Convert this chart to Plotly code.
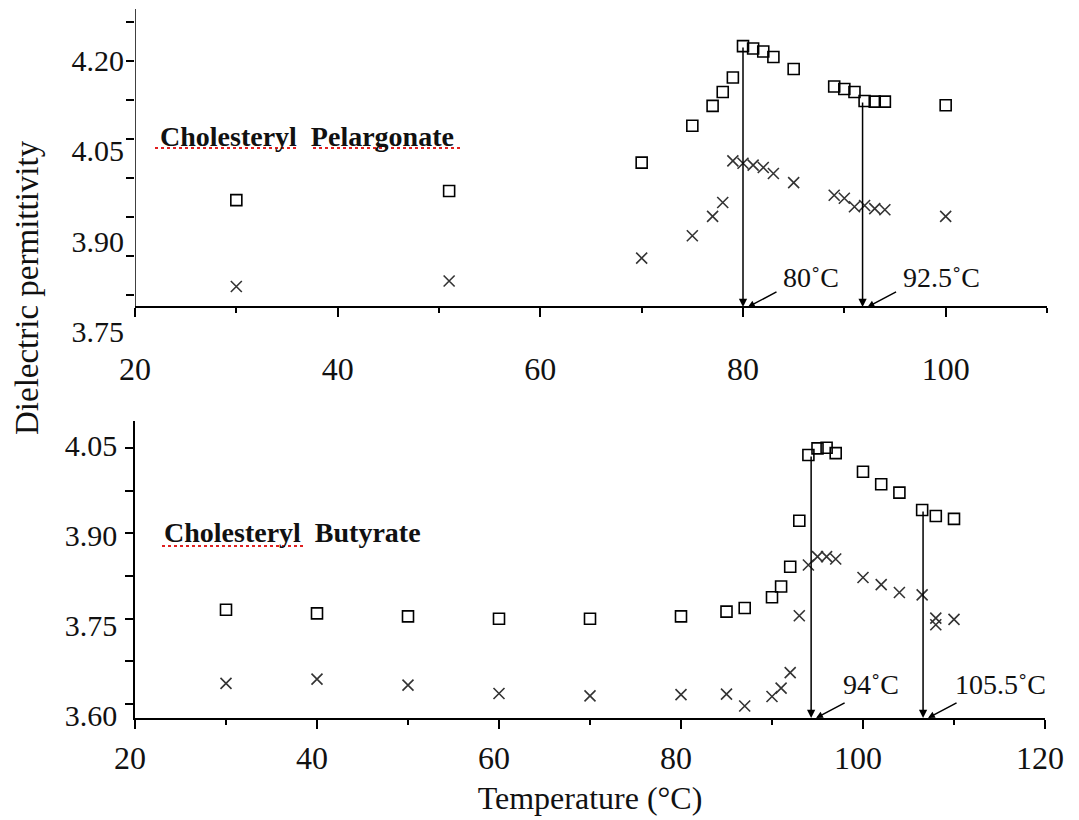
import plotly.graph_objects as go

W, H = 1079, 820
FONT = "Liberation Serif"

# ---------------- Data ----------------
# Cholesteryl Pelargonate (top panel)
top_temp = [30, 51, 70, 75, 77, 78, 79, 80, 81, 82, 83, 85, 89, 90, 91, 92, 93, 94, 100]
top_square = [3.973, 3.988, 4.035, 4.096, 4.129, 4.152, 4.176, 4.228, 4.224, 4.219, 4.210,
              4.190, 4.161, 4.157, 4.152, 4.137, 4.136, 4.136, 4.130]
top_cross = [3.830, 3.839, 3.877, 3.914, 3.946, 3.969, 4.038, 4.034, 4.031, 4.027, 4.017,
             4.002, 3.981, 3.976, 3.962, 3.964, 3.959, 3.957, 3.946]
top_trans_x = [80, 91.8]
top_trans_top = [4.228, 4.137]
top_trans_labels = ["80˚C", "92.5˚C"]

# Cholesteryl Butyrate (bottom panel)
bot_sq_temp = [30, 40, 50, 60, 70, 80, 85, 87, 90, 91, 92, 93, 94, 95, 96, 97, 100, 102, 104,
               106.5, 108, 110]
bot_square = [3.776, 3.770, 3.765, 3.761, 3.761, 3.765, 3.773, 3.779, 3.797, 3.815, 3.848,
              3.925, 4.035, 4.046, 4.047, 4.038, 4.007, 3.986, 3.972, 3.943, 3.933, 3.928]
bot_cr_temp = [30, 40, 50, 60, 70, 80, 85, 87, 90, 91, 92, 93, 94, 95, 96, 97, 100, 102, 104,
               106.5, 108, 108, 110]
bot_cross = [3.653, 3.660, 3.650, 3.636, 3.632, 3.634, 3.635, 3.615, 3.631, 3.645, 3.671,
             3.766, 3.851, 3.865, 3.865, 3.861, 3.830, 3.818, 3.805, 3.801, 3.762, 3.751, 3.760]
bot_trans_x = [94.3, 106.6]
bot_trans_top = [4.035, 3.943]
bot_trans_labels = ["94˚C", "105.5˚C"]

top_xticks = [20, 40, 60, 80, 100]
bot_xticks = [20, 40, 60, 80, 100, 120]
top_yticks = [4.20, 4.05, 3.90, 3.75]
bot_yticks = [4.05, 3.90, 3.75, 3.60]
top_ytext = ["4.20", "4.05", "3.90", "3.75"]
bot_ytext = ["4.05", "3.90", "3.75", "3.60"]

# ---------------- Helpers ----------------
def px(xp):
    return xp / W

def py(yp):
    return 1 - yp / H

TOP_X_RANGE = [20, 110]
TOP_Y_RANGE = [3.7331, 4.2894]
TOP_AXIS_Y = 3.796
BOT_X_RANGE = [20, 120]
BOT_Y_RANGE = [3.595, 4.0918]

top_minor_y = [3.8159 + i * 0.06464 for i in range(8)]
bot_minor_y = [3.6184 + i * 0.0714 for i in range(7)]

sq_marker = dict(symbol="square-open", size=11, color="black", line=dict(width=1.6, color="black"))
cr_marker = dict(symbol="x-thin-open", size=11, color="#333", line=dict(width=1.6, color="#333"))

fig = go.Figure()
fig.add_trace(go.Scatter(x=top_temp, y=top_square, mode="markers", marker=sq_marker,
                         xaxis="x", yaxis="y", showlegend=False))
fig.add_trace(go.Scatter(x=top_temp, y=top_cross, mode="markers", marker=cr_marker,
                         xaxis="x", yaxis="y", showlegend=False))
fig.add_trace(go.Scatter(x=bot_sq_temp, y=bot_square, mode="markers", marker=sq_marker,
                         xaxis="x2", yaxis="y2", showlegend=False))
fig.add_trace(go.Scatter(x=bot_cr_temp, y=bot_cross, mode="markers", marker=cr_marker,
                         xaxis="x2", yaxis="y2", showlegend=False))

tickfont_x = dict(family=FONT, size=32, color="#111")
tickfont_y = dict(family=FONT, size=30, color="#111")

common_x = dict(showline=True, linecolor="black", linewidth=1.5, showgrid=False, zeroline=False,
                ticks="outside", ticklen=9, tickwidth=1.5, tickcolor="black", automargin=False,
                tickfont=tickfont_x, tickmode="array",
                minor=dict(dtick=10, tick0=20, ticks="outside", ticklen=5, tickwidth=1.5,
                           tickcolor="black", showgrid=False))

fig.update_layout(
    width=W, height=H,
    margin=dict(l=0, r=0, t=0, b=0),
    paper_bgcolor="white", plot_bgcolor="white",
    xaxis=dict(common_x, domain=[px(135), px(1047)], range=TOP_X_RANGE,
               anchor="free", position=py(307),
               tickvals=top_xticks, ticktext=[str(v) for v in top_xticks],
               ticklabelstandoff=25),
    yaxis=dict(domain=[py(345), py(9)], range=TOP_Y_RANGE, anchor="x",
               showline=False, showgrid=False, zeroline=False, automargin=False,
               tickmode="array", tickvals=top_yticks, ticktext=top_ytext, ticks="",
               tickfont=tickfont_y, ticklabelshift=-3, ticklabelstandoff=10,
               minor=dict(tickmode="array", tickvals=top_minor_y, ticks="outside",
                          ticklen=8, tickwidth=1.5, tickcolor="black", showgrid=False)),
    xaxis2=dict(common_x, domain=[px(135), px(1045)], range=BOT_X_RANGE, anchor="y2",
                tickvals=bot_xticks, ticktext=[str(v) for v in bot_xticks],
                ticklabelstandoff=2, ticklabelshift=-5,
                title=dict(text="Temperature (°C)", font=dict(family=FONT, size=32, color="#111"),
                           standoff=11)),
    yaxis2=dict(domain=[py(718), py(421)], range=BOT_Y_RANGE, anchor="x2",
                showline=True, linecolor="black", linewidth=1.5, automargin=False,
                showgrid=False, zeroline=False,
                tickmode="array", tickvals=bot_yticks, ticktext=bot_ytext, ticks="",
                tickfont=tickfont_y, ticklabelstandoff=10,
                minor=dict(tickmode="array", tickvals=bot_minor_y, ticks="outside",
                           ticklen=8, tickwidth=1.5, tickcolor="black", showgrid=False)),
)

shapes = []
# top y-axis line (stops at the x-axis crossing)
shapes.append(dict(type="line", xref="x", yref="y", x0=TOP_X_RANGE[0], x1=TOP_X_RANGE[0],
                   y0=TOP_AXIS_Y, y1=TOP_Y_RANGE[1], line=dict(color="black", width=1.5)))
# red spell-check squiggles under the panel titles
for (x0, x1, yy) in [(155, 298, 148), (313, 463, 148), (162, 305, 546)]:
    shapes.append(dict(type="line", xref="paper", yref="paper", x0=px(x0), x1=px(x1),
                       y0=py(yy), y1=py(yy), line=dict(color="#e02020", width=2, dash="dot")))
fig.update_layout(shapes=shapes)

ann = []
lab_font = dict(family=FONT, size=28, color="#111")
title_font = dict(family=FONT, size=28, color="#111")

# panel titles
ann.append(dict(x=22.27, y=4.0775, xref="x", yref="y", text="<b>Cholesteryl\u00a0 Pelargonate</b>",
                showarrow=False, xanchor="left", yanchor="middle", font=title_font))
ann.append(dict(x=22.97, y=3.9045, xref="x2", yref="y2", text="<b>Cholesteryl\u00a0 Butyrate</b>",
                showarrow=False, xanchor="left", yanchor="middle", font=title_font))

# shared y-axis title
ann.append(dict(x=px(27), y=py(288), xref="paper", yref="paper", text="Dielectric permittivity",
                textangle=-90, showarrow=False, xanchor="center", yanchor="middle",
                font=dict(family=FONT, size=33, color="#111")))

def add_transitions(xs, tops, labels, xr, yr, base, text_dx, text_dy):
    for xv, tv, lab in zip(xs, tops, labels):
        ann.append(dict(x=xv, y=base, xref=xr, yref=yr, ax=xv, ay=tv, axref=xr, ayref=yr,
                        text="", showarrow=True, arrowhead=2, arrowsize=1.1, arrowwidth=1.5,
                        arrowcolor="black", standoff=0, startstandoff=0))
        ann.append(dict(x=xv, y=base, xref=xr, yref=yr, xshift=5, ax=30, ay=-16,
                        text="", showarrow=True, arrowhead=2, arrowsize=0.9, arrowwidth=1.5,
                        arrowcolor="black", standoff=0, startstandoff=0))
        ann.append(dict(x=xv, y=base, xref=xr, yref=yr, xshift=text_dx, yshift=text_dy,
                        text=lab, showarrow=False, xanchor="left", yanchor="middle",
                        font=lab_font))

add_transitions(top_trans_x, top_trans_top, top_trans_labels, "x", "y", TOP_AXIS_Y, 38, 30)
add_transitions(bot_trans_x, bot_trans_top, bot_trans_labels, "x2", "y2", BOT_Y_RANGE[0], 30, 34)

fig.update_layout(annotations=ann)
fig.write_html("out.html")
